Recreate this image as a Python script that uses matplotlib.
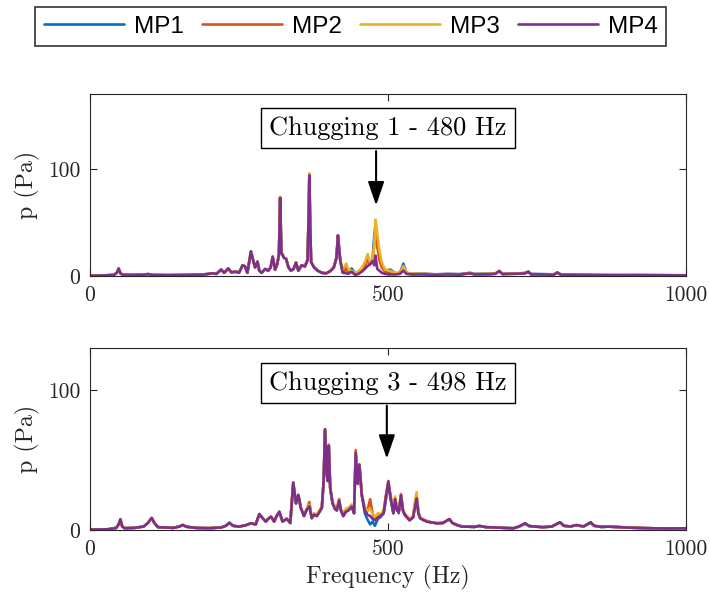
import matplotlib
matplotlib.use("Agg")
import matplotlib.pyplot as plt

# ---------------- data ----------------
series_names = ["MP1", "MP2", "MP3", "MP4"]
series_colors = ["#0072BD", "#D95319", "#EDB120", "#7E2F8E"]

x_ticks = [0, 500, 1000]
x_tick_labels = ["0", "500", "1000"]
y_ticks = [0, 100]
y_tick_labels = ["0", "100"]

# Top panel (Chugging 1)
f_top = [0, 20, 40, 45, 48, 51, 55, 70, 90, 97, 104, 130, 160, 190, 205, 212,
         220, 225, 232, 237, 245, 250, 256, 260, 264, 270, 274, 277, 281, 284,
         288, 294, 299, 303, 306.5, 310.5, 314, 317, 319, 321, 325.5, 329, 333,
         337, 341.5, 345.6, 349.5, 355, 360.6, 365, 367, 368, 369.5, 371, 376,
         382, 389, 396, 403, 409, 413.5, 416, 418, 420, 424, 430, 433.5, 439,
         445, 450.6, 456, 461, 466, 470, 474, 477, 479, 482, 485.5, 489.5, 495,
         504, 512.6, 520, 525.7, 531, 540, 560, 580, 600, 620, 637.6, 645, 670,
         680, 686.8, 692, 710, 722, 730, 735.4, 740, 760, 778, 784, 790, 820,
         850, 880, 920, 960, 1000]
mp1_top = [0.3, 0.5, 1.0, 3.0, 6.8, 2.5, 1.2, 1.0, 1.2, 1.8, 1.0, 0.8, 1.0, 1.4,
           2.6, 2.0, 6.0, 3.0, 7.0, 3.5, 4.0, 3.0, 10.0, 9.0, 3.0, 22.5, 14.0,
           8.0, 13.0, 5.0, 3.0, 6.5, 5.0, 8.0, 18.0, 6.0, 11.0, 20.0, 73.0, 22.0,
           17.0, 16.0, 8.0, 5.0, 6.5, 12.5, 5.0, 10.0, 9.0, 15.0, 60.0, 94.0,
           45.0, 13.0, 8.0, 5.0, 3.0, 2.5, 4.5, 8.0, 17.0, 37.0, 25.0, 14.0, 4.0,
           8.0, 4.0, 7.0, 2.5, 4.0, 6.0, 10.0, 16.0, 11.0, 15.0, 38.0, 48.0,
           30.0, 18.0, 10.0, 5.0, 6.0, 2.5, 3.0, 11.6, 3.0, 2.0, 2.2, 1.6, 2.0,
           1.8, 3.0, 2.0, 2.2, 2.4, 4.5, 2.0, 2.4, 2.5, 3.0, 4.0, 2.0, 1.8, 1.5,
           3.2, 1.4, 1.2, 1.0, 0.9, 0.9, 0.8, 0.7]
mp2_top = [0.3, 0.5, 1.0, 3.0, 7.0, 2.5, 1.2, 1.0, 1.2, 1.8, 1.0, 0.8, 1.0, 1.3,
           2.5, 2.0, 6.0, 3.0, 7.0, 3.5, 4.0, 3.0, 10.0, 9.0, 3.0, 23.0, 14.0,
           8.0, 13.5, 5.0, 3.0, 6.6, 5.0, 8.0, 18.0, 6.0, 11.0, 20.0, 73.0, 22.0,
           17.0, 16.0, 8.0, 5.0, 6.5, 12.5, 5.0, 10.0, 9.0, 15.0, 60.0, 95.0,
           45.0, 13.0, 8.0, 5.0, 3.0, 2.5, 4.5, 8.0, 17.0, 38.0, 25.0, 14.0, 3.5,
           6.0, 3.0, 5.0, 2.0, 3.5, 6.0, 9.0, 15.0, 11.0, 14.0, 30.0, 44.0, 28.0,
           15.0, 8.0, 4.0, 4.0, 2.0, 2.5, 8.0, 2.5, 1.8, 1.8, 1.5, 1.7, 1.5, 2.6,
           1.7, 1.8, 2.1, 4.6, 1.9, 2.1, 2.2, 2.6, 4.0, 1.6, 1.5, 1.3, 3.3, 1.3,
           1.1, 0.9, 0.8, 0.8, 0.7, 0.6]
mp3_top = [0.3, 0.5, 1.0, 3.0, 7.0, 2.5, 1.2, 1.0, 1.2, 1.8, 1.0, 0.8, 1.0, 1.3,
           2.5, 2.0, 6.0, 3.0, 7.0, 3.5, 4.0, 3.0, 10.0, 9.0, 3.0, 23.0, 14.0,
           8.0, 13.5, 5.0, 3.0, 6.6, 5.0, 8.0, 18.0, 6.0, 11.0, 20.0, 74.0, 22.0,
           17.0, 16.0, 8.0, 5.0, 6.5, 12.5, 5.0, 10.0, 9.0, 15.0, 62.0, 96.0,
           46.0, 13.0, 8.0, 5.0, 3.0, 2.5, 4.5, 8.0, 17.0, 38.0, 25.0, 14.0, 6.0,
           11.6, 6.0, 5.0, 3.0, 4.7, 7.5, 12.5, 20.4, 12.5, 15.7, 28.0, 52.5,
           39.0, 23.6, 12.6, 6.0, 4.7, 3.0, 3.0, 9.4, 3.0, 2.0, 2.0, 1.5, 1.8,
           1.6, 2.6, 1.8, 2.0, 2.2, 4.7, 2.0, 2.2, 2.3, 2.6, 4.0, 1.7, 1.6, 1.3,
           3.3, 1.3, 1.1, 0.9, 0.8, 0.8, 0.7, 0.6]
mp4_top = [0.3, 0.5, 1.0, 3.0, 7.0, 2.5, 1.2, 1.0, 1.2, 1.8, 1.0, 0.8, 1.0, 1.3,
           2.5, 2.0, 6.0, 3.0, 7.0, 3.5, 4.0, 3.0, 10.0, 9.0, 3.0, 23.0, 14.0,
           8.0, 13.5, 5.0, 3.0, 6.6, 5.0, 8.0, 18.0, 6.0, 11.0, 20.0, 73.0, 22.0,
           17.0, 16.0, 8.0, 5.0, 6.5, 12.5, 5.0, 10.0, 9.0, 15.0, 60.0, 94.0,
           45.0, 13.0, 8.0, 5.0, 3.0, 2.5, 4.5, 8.0, 17.0, 38.0, 25.0, 14.0, 3.0,
           2.5, 2.0, 4.0, 1.0, 2.0, 4.0, 6.6, 9.4, 11.0, 14.0, 10.0, 19.0, 6.6,
           5.0, 3.0, 2.0, 1.5, 1.5, 2.0, 5.0, 2.0, 1.5, 1.5, 1.2, 1.5, 1.3, 2.5,
           1.5, 1.6, 2.0, 4.7, 1.8, 2.0, 2.2, 2.5, 4.0, 1.5, 1.5, 1.2, 3.3, 1.2,
           1.0, 0.8, 0.7, 0.8, 0.7, 0.6]

# Bottom panel (Chugging 3)
f_bot = [0, 30, 44, 48, 51, 54, 58, 75, 90, 97, 103.5, 108, 114, 125, 140, 150,
         155.5, 162, 178, 200, 220, 228, 233.8, 240, 250, 262, 270, 278, 284,
         290, 295, 299, 303.7, 309, 313, 317.7, 323, 330, 336, 341, 345.6,
         349.6, 353.5, 359, 363, 368, 372, 376, 380.6, 385, 389, 392, 394.3,
         397, 399, 400.6, 403, 407, 411, 414, 418, 421, 425, 429, 433.6, 439,
         443, 445.8, 449, 452, 456, 461, 465, 470, 474, 478, 483, 487, 492.7,
         496.6, 500.6, 504.4, 509, 512, 515, 518, 521.8, 525, 528, 532, 536,
         542, 545, 548, 551, 554, 560, 565, 572, 582, 592, 598, 603, 608, 615,
         624, 632, 645, 653, 665, 680, 695, 710, 720, 730, 737, 749, 760, 775,
         788.6, 795, 806, 816, 828, 840, 846, 858, 870, 890, 910, 930, 945, 970,
         1000]
mp1_bot = [0.3, 0.5, 1.5, 4.0, 7.4, 2.5, 1.3, 1.5, 2.5, 5.0, 8.4, 5.0, 2.0, 1.8,
           1.5, 2.5, 3.5, 2.3, 1.5, 1.3, 1.8, 3.0, 5.0, 3.0, 2.4, 3.5, 4.8, 4.0,
           11.0, 8.3, 6.0, 8.0, 9.5, 6.0, 10.0, 13.0, 6.0, 8.0, 5.0, 33.0, 19.0,
           25.0, 16.0, 10.0, 14.0, 18.0, 8.5, 11.0, 10.0, 13.0, 16.0, 35.0, 71.0,
           40.0, 35.0, 60.0, 30.0, 19.0, 15.0, 14.0, 21.0, 14.0, 10.0, 13.0, 15.0,
           18.0, 12.0, 54.0, 33.0, 46.0, 25.0, 12.0, 8.0, 4.0, 6.0, 3.0, 8.0, 9.0,
           12.0, 22.0, 33.0, 22.0, 12.0, 21.0, 15.0, 12.0, 24.0, 14.0, 11.0, 9.0,
           7.0, 9.0, 17.0, 24.0, 12.0, 9.0, 7.0, 6.5, 5.5, 4.8, 5.0, 6.5, 7.5,
           5.0, 3.8, 2.5, 2.4, 2.2, 3.0, 2.0, 1.8, 1.5, 1.3, 2.5, 4.5, 2.8, 2.4,
           2.0, 2.5, 5.5, 3.0, 2.5, 3.5, 2.5, 5.0, 3.0, 2.2, 2.4, 2.0, 1.6, 1.4,
           1.2, 1.1, 1.2]
mp2_bot = [0.3, 0.5, 1.5, 4.0, 7.6, 2.5, 1.3, 1.5, 2.5, 5.0, 8.6, 5.0, 2.0, 1.8,
           1.5, 2.5, 3.6, 2.3, 1.5, 1.3, 1.8, 3.0, 5.2, 3.0, 2.4, 3.5, 4.8, 4.0,
           11.4, 8.3, 6.0, 8.0, 9.5, 6.0, 10.0, 13.0, 6.0, 8.0, 5.0, 34.0, 19.0,
           25.0, 16.0, 10.0, 14.0, 20.0, 8.5, 11.0, 10.0, 13.0, 16.0, 35.0, 72.0,
           41.0, 35.0, 61.0, 30.0, 19.0, 16.0, 15.0, 22.0, 14.0, 10.0, 13.0, 14.0,
           17.0, 12.0, 57.0, 33.0, 47.0, 25.0, 15.0, 13.0, 22.0, 12.0, 7.0, 9.0,
           10.0, 13.0, 25.0, 35.0, 23.0, 12.0, 22.0, 14.0, 13.0, 25.0, 14.0, 11.0,
           9.0, 7.0, 9.0, 16.0, 23.0, 12.0, 8.3, 7.0, 6.0, 5.5, 4.8, 5.0, 6.5,
           7.8, 5.0, 3.6, 2.4, 2.4, 2.2, 2.9, 2.0, 1.8, 1.5, 1.2, 2.5, 4.8, 2.8,
           2.4, 2.0, 2.5, 5.5, 3.0, 2.5, 3.5, 2.5, 5.5, 3.0, 2.2, 2.4, 2.0, 1.6,
           1.4, 1.2, 1.1, 1.2]
mp3_bot = [0.3, 0.5, 1.5, 4.0, 7.6, 2.5, 1.3, 1.5, 2.5, 5.0, 8.6, 5.0, 2.0, 1.8,
           1.5, 2.5, 3.6, 2.3, 1.5, 1.3, 1.8, 3.0, 5.2, 3.0, 2.4, 3.5, 4.8, 4.0,
           11.4, 8.3, 6.0, 8.0, 9.5, 6.0, 10.0, 13.0, 6.0, 8.0, 5.0, 34.0, 19.0,
           25.0, 16.0, 10.0, 15.0, 18.0, 8.5, 12.0, 11.0, 14.0, 17.0, 35.0, 71.0,
           41.0, 35.0, 60.0, 30.0, 20.0, 17.0, 15.0, 21.0, 15.0, 12.0, 15.0, 16.0,
           18.0, 13.0, 55.0, 33.0, 46.0, 26.0, 16.0, 14.0, 15.0, 12.0, 9.0, 12.0,
           11.0, 14.0, 24.0, 34.0, 24.0, 18.0, 24.0, 16.0, 15.0, 26.0, 15.0, 12.0,
           10.0, 8.0, 10.0, 20.0, 27.0, 13.0, 9.0, 7.5, 6.5, 5.5, 4.8, 5.0, 6.5,
           7.5, 5.0, 3.8, 2.6, 2.4, 2.2, 3.0, 2.0, 1.8, 1.5, 1.2, 2.5, 4.6, 2.8,
           2.4, 2.0, 2.5, 5.3, 3.0, 2.5, 3.5, 2.5, 5.3, 3.0, 2.2, 2.4, 2.0, 1.6,
           1.4, 1.2, 1.1, 1.2]
mp4_bot = [0.3, 0.5, 1.5, 4.0, 7.6, 2.5, 1.3, 1.5, 2.5, 5.0, 8.6, 5.0, 2.0, 1.8,
           1.5, 2.5, 3.6, 2.3, 1.5, 1.3, 1.8, 3.0, 5.2, 3.0, 2.4, 3.5, 4.8, 4.0,
           11.4, 8.3, 6.0, 8.0, 9.5, 6.0, 10.0, 13.0, 6.0, 8.0, 5.0, 33.8, 19.0,
           25.0, 16.0, 10.0, 14.0, 17.0, 8.5, 11.0, 10.0, 13.0, 16.0, 35.0, 72.0,
           40.5, 35.0, 60.0, 30.0, 19.0, 15.0, 14.0, 21.0, 14.0, 10.0, 13.0, 14.0,
           16.6, 12.0, 55.0, 33.0, 46.4, 25.0, 14.0, 11.0, 10.0, 8.0, 7.0, 9.0,
           10.0, 12.0, 24.0, 34.5, 23.0, 12.0, 22.0, 14.0, 13.0, 25.0, 14.0, 11.0,
           9.0, 7.0, 9.0, 16.0, 22.6, 12.0, 8.3, 7.0, 6.0, 5.5, 4.8, 5.0, 6.5,
           7.8, 5.0, 3.6, 2.4, 2.4, 2.2, 2.9, 2.0, 1.8, 1.5, 1.2, 2.5, 4.8, 2.8,
           2.4, 2.0, 2.5, 5.5, 3.0, 2.5, 3.5, 2.5, 5.5, 3.0, 2.2, 2.4, 2.0, 1.6,
           1.4, 1.2, 1.1, 1.2]

top_label = "Chugging 1 - 480 Hz"
top_freq = 480
bot_label = "Chugging 3 - 498 Hz"
bot_freq = 498

# ---------------- figure ----------------
serif = "cmr10"
plt.rcParams["font.family"] = serif
plt.rcParams["axes.unicode_minus"] = False

fig = plt.figure(figsize=(7.10, 5.99), dpi=100)
ax_top = fig.add_axes([0.1268, 0.5392, 0.8394, 0.3039])
ax_bot = fig.add_axes([0.1268, 0.1152, 0.8394, 0.3038])

axcol = "#262626"
tick_fs = 15.5
label_fs = 17.2
ann_fs = 19

panels = [
    (ax_top, f_top, [mp1_top, mp2_top, mp3_top, mp4_top], 170, top_label, top_freq, 138, 116.7, 66),
    (ax_bot, f_bot, [mp1_bot, mp2_bot, mp3_bot, mp4_bot], 130, bot_label, bot_freq, 104.9, 88.8, 51),
]

handles = []
for i, (ax, f, vals, ymax, lab, fr, ytext, ybox, ytip) in enumerate(panels):
    for name, col, v in zip(series_names, series_colors, vals):
        ln, = ax.plot(f, v, color=col, lw=1.9, label=name,
                      solid_joinstyle="round", solid_capstyle="round")
        if i == 0:
            handles.append(ln)
    ax.set_xlim(0, 1000)
    ax.set_ylim(0, ymax)
    ax.set_xticks(x_ticks)
    ax.set_xticklabels(x_tick_labels)
    ax.set_yticks(y_ticks)
    ax.set_yticklabels(y_tick_labels)
    ax.tick_params(direction="in", length=5, width=0.8, color=axcol,
                   labelcolor=axcol, labelsize=tick_fs, top=True, right=True,
                   pad=7)
    for sp in ax.spines.values():
        sp.set_color(axcol)
        sp.set_linewidth(0.8)
    ax.set_ylabel("p (Pa)", fontsize=label_fs, color=axcol, labelpad=6)
    ax.text(500, ytext, lab, fontsize=ann_fs, ha="center", va="center",
            color="black",
            bbox=dict(boxstyle="square,pad=0.3", fc="white", ec="black", lw=1.0))
    ax.annotate("", xy=(fr, ytip), xytext=(fr, ybox),
                arrowprops=dict(arrowstyle="-|>,head_length=1.45,head_width=0.5",
                                mutation_scale=10, lw=1.5, color="black",
                                shrinkA=0, shrinkB=0))

ax_bot.set_xlabel("Frequency (Hz)", fontsize=label_fs, color=axcol, labelpad=4)

leg = fig.legend(handles=handles, labels=series_names, loc="upper center",
                 bbox_to_anchor=(0.494, 0.988), ncol=4, frameon=True,
                 fancybox=False, prop={"family": "Liberation Sans", "size": 17.5},
                 handlelength=3.3, handletextpad=0.4, columnspacing=0.75,
                 borderpad=0.35, borderaxespad=0)
leg.get_frame().set_edgecolor("black")
leg.get_frame().set_linewidth(1.2)

fig.savefig("out.png", dpi=100)
